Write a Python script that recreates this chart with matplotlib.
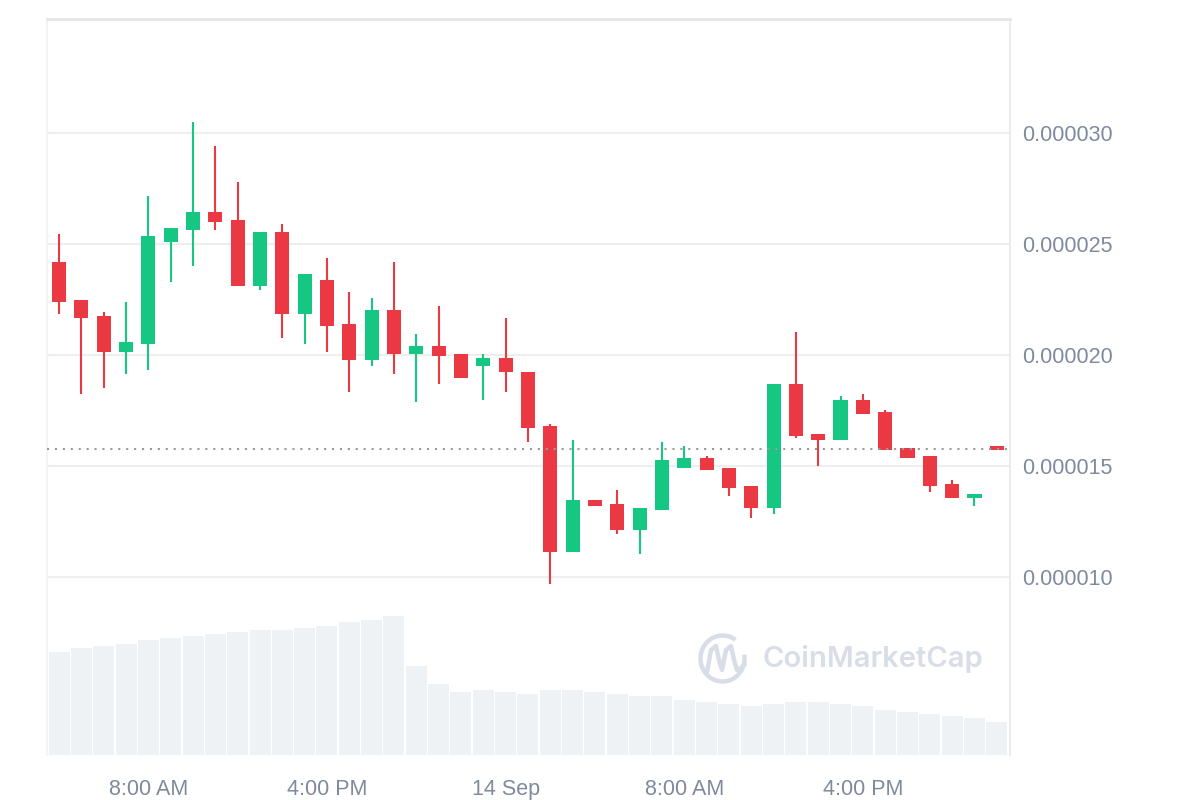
import matplotlib
matplotlib.use("Agg")
import matplotlib.pyplot as plt
import numpy as np
from matplotlib.patches import Arc
from matplotlib.path import Path
from matplotlib.patches import PathPatch

# ---- data (prices in units of 1e-6) ----
opens = [24.19, 22.48, 21.76, 20.14, 20.50, 25.09, 25.63, 26.44, 26.08, 23.11,
         25.54, 21.85, 23.38, 21.40, 19.78, 22.03, 20.05, 20.41, 20.05, 19.50,
         19.86, 19.23, 16.80, 11.13, 13.47, 13.29, 12.12, 13.02, 14.91, 15.36,
         14.91, 14.10, 13.11, 18.69, 16.44, 16.17, 17.97, 17.43, 15.81, 15.45,
         14.19, 13.56, 15.90]
highs = [25.45, 22.48, 21.94, 22.39, 27.16, 25.72, 30.50, 29.41, 27.79, 25.54,
         25.90, 23.65, 24.37, 22.84, 22.57, 24.19, 20.95, 22.21, 20.05, 20.05,
         21.67, 19.23, 16.89, 16.17, 13.47, 13.92, 13.11, 16.08, 15.90, 15.45,
         14.91, 14.10, 18.69, 21.04, 16.44, 18.15, 18.24, 17.52, 15.81, 15.45,
         14.37, 13.74, 15.90]
lows = [21.85, 18.24, 18.51, 19.14, 19.32, 23.29, 24.01, 25.63, 23.11, 22.93,
        20.77, 20.50, 20.14, 18.33, 19.50, 19.14, 17.88, 18.69, 18.96, 17.97,
        18.33, 16.08, 9.69, 11.13, 13.20, 11.94, 11.04, 13.02, 14.91, 14.82,
        13.65, 12.66, 12.84, 16.26, 15.00, 16.17, 17.34, 15.72, 15.36, 13.83,
        13.56, 13.20, 15.72]
closes = [22.39, 21.67, 20.14, 20.59, 25.36, 25.72, 26.44, 25.99, 23.11, 25.54,
          21.85, 23.65, 21.31, 19.78, 22.03, 20.05, 20.41, 19.95, 18.96, 19.86,
          19.23, 16.71, 11.13, 13.47, 13.20, 12.12, 13.11, 15.27, 15.36, 14.82,
          14.01, 13.11, 18.69, 16.35, 16.17, 17.97, 17.34, 15.72, 15.36, 14.10,
          13.56, 13.74, 15.72]
volumes = [10.3, 10.7, 10.9, 11.1, 11.5, 11.7, 11.9, 12.1, 12.3, 12.5,
           12.5, 12.7, 12.9, 13.3, 13.5, 13.9, 8.9, 7.1, 6.3, 6.5,
           6.3, 6.1, 6.5, 6.5, 6.3, 6.1, 5.9, 5.9, 5.5, 5.3,
           5.1, 4.9, 5.1, 5.3, 5.3, 5.1, 4.9, 4.5, 4.3, 4.1,
           3.9, 3.7, 3.3]
current_price = 15.77
tick_positions = [4, 12, 20, 28, 36]
tick_labels = ["8:00 AM", "4:00 PM", "14 Sep", "8:00 AM", "4:00 PM"]
price_ticks = [10, 15, 20, 25, 30]

SCALE = 1e-6
GREEN = "#16c784"
RED = "#ea3943"
TXT = "#808a9d"
FONT = "Liberation Sans"

W, H = 1200, 800
fig = plt.figure(figsize=(12, 8), dpi=100)
fig.patch.set_facecolor("white")

L, R, T, B = 47, 1010, 19, 755
rect = [L / W, 1 - B / H, (R - L) / W, (B - T) / H]

x = np.arange(len(opens))
xlim = (-0.54, 42.59)

# volume axes (behind)
axv = fig.add_axes(rect, zorder=0)
axv.bar(x, volumes, width=0.94, color="#eff2f5", linewidth=0)
axv.set_xlim(*xlim)
axv.set_ylim(0, 73.6)
axv.axis("off")

# price axes
ax = fig.add_axes(rect, zorder=1)
ax.patch.set_visible(False)
o = np.array(opens) * SCALE
h = np.array(highs) * SCALE
l = np.array(lows) * SCALE
c = np.array(closes) * SCALE
colors = [GREEN if cc >= oo else RED for oo, cc in zip(o, c)]
ax.vlines(x, l, h, colors=colors, linewidth=1.5, zorder=3)
ax.bar(x, np.abs(c - o), bottom=np.minimum(o, c), width=0.63,
       color=colors, linewidth=0, zorder=4)

ax.axhline(current_price * SCALE, color="#9a9a9a", linewidth=1.5,
           linestyle=(0, (1, 2.8)), zorder=5)

ax.set_xlim(*xlim)
ax.set_ylim(1.982 * SCALE, 35.135 * SCALE)
ax.set_yticks([p * SCALE for p in price_ticks])
ax.set_yticklabels([f"{p * SCALE:.6f}" for p in price_ticks])
ax.yaxis.tick_right()
ax.set_xticks(tick_positions)
ax.set_xticklabels(tick_labels)
ax.tick_params(axis="both", length=0, labelcolor=TXT, labelsize=15.5)
ax.tick_params(axis="y", pad=8.5)
ax.tick_params(axis="x", pad=17.5)
for lab in ax.get_xticklabels() + ax.get_yticklabels():
    lab.set_fontfamily(FONT)
ax.grid(axis="y", color="#eeeeee", linewidth=1.5, zorder=0)
ax.grid(axis="x", visible=False)
for s in ["left", "bottom"]:
    ax.spines[s].set_visible(False)
ax.spines["top"].set_color("#e6e6e6")
ax.spines["top"].set_linewidth(2)
ax.spines["right"].set_color("#ebebeb")
ax.spines["right"].set_linewidth(1.5)
ax.spines["left"].set_visible(True)
ax.spines["left"].set_color("#f4f4f4")
ax.spines["left"].set_linewidth(1.5)

# watermark overlay in pixel coordinates
ov = fig.add_axes([0, 0, 1, 1], zorder=2)
ov.set_xlim(0, W)
ov.set_ylim(H, 0)
ov.axis("off")
ov.patch.set_visible(False)
WM = "#d8dde8"
ov.add_patch(Arc((722.5, 658.5), 44, 46, theta1=-10, theta2=305,
                 color=WM, linewidth=3.2))
verts = [(707, 672), (711, 650), (716, 646), (719, 660), (722, 670),
         (726, 650), (731, 646), (734, 660), (737, 670), (741, 668), (745, 664)]
codes = [Path.MOVETO] + [Path.LINETO] * (len(verts) - 1)
ov.add_patch(PathPatch(Path(verts, codes), fill=False, edgecolor=WM,
                       linewidth=3.2, capstyle="round", joinstyle="round"))
ov.text(762, 659, "CoinMarketCap", color=WM, fontsize=21, fontweight="semibold",
        fontfamily="Inter", va="center", ha="left")

fig.savefig("out.png", dpi=100)
